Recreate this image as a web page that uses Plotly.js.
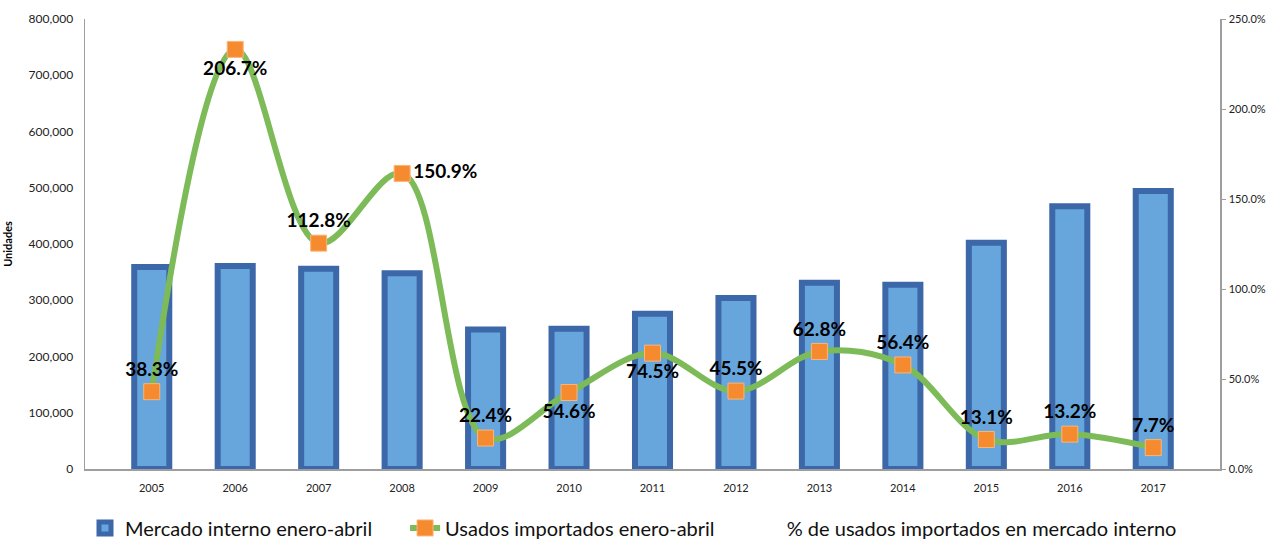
<!DOCTYPE html>
<html>
<head>
<meta charset="utf-8">
<script src="https://cdn.plot.ly/plotly-3.0.1.min.js"></script>
<style>html,body{margin:0;padding:0;background:#fff;}#chart{width:1269px;height:539px;}</style>
</head>
<body>
<div id="chart"></div>
<script>
// Data
var years = ['2005','2006','2007','2008','2009','2010','2011','2012','2013','2014','2015','2016','2017'];
var mercadoInterno = [359000, 361000, 356000, 348000, 248000, 249500, 276000, 304000, 331000, 327500, 402000, 467000, 494000];
var usadosImportados = [137500, 746000, 401500, 525500, 55000, 136000, 206000, 138500, 209000, 185000, 52500, 62000, 38000];
var pctUsados = [38.3, 206.7, 112.8, 150.9, 22.4, 54.6, 74.5, 45.5, 62.8, 56.4, 13.1, 13.2, 7.7];
var labelPos = ['top center','bottom center','top center','middle right','top center','bottom center','bottom center','top center','top center','top center','top center','top center','top center'];

var FONT = 'Lato, "Liberation Sans", sans-serif';

var traces = [
  {
    type: 'bar', name: 'Mercado interno enero-abril',
    x: years, y: mercadoInterno, yaxis: 'y', legend: 'legend',
    width: 0.42,
    marker: {color: '#67a6dd', line: {color: '#3c67a8', width: 6}},
    hoverinfo: 'skip'
  },
  {
    type: 'scatter', mode: 'lines+markers+text', name: 'Usados importados enero-abril',
    x: years, y: usadosImportados, yaxis: 'y', legend: 'legend2',
    line: {color: '#7dba58', width: 6, shape: 'spline', smoothing: 1},
    marker: {symbol: 'square', size: 16, color: '#f68a2e', line: {color: '#fbb57a', width: 1}},
    text: pctUsados.map(function(v){ return v.toFixed(1) + '%'; }),
    textposition: labelPos,
    textfont: {family: FONT, size: 19, color: '#000', weight: 'bold'},
    cliponaxis: false,
    hoverinfo: 'skip'
  },
  {
    type: 'scatter', mode: 'lines', name: '% de usados importados en mercado interno',
    x: years, y: pctUsados.map(function(v){ return v / 100; }), yaxis: 'y2', legend: 'legend3',
    line: {color: 'rgba(0,0,0,0)', width: 0},
    hoverinfo: 'skip'
  }
];

function lg(x) {
  return {
    orientation: 'h', x: x, xanchor: 'left', y: -0.131, yanchor: 'middle',
    font: {size: 20, color: '#111', family: FONT},
    bgcolor: 'rgba(0,0,0,0)', itemwidth: 30
  };
}

var layout = {
  width: 1269, height: 539,
  margin: {l: 85, r: 49, t: 19, b: 70, autoexpand: false},
  paper_bgcolor: '#fff', plot_bgcolor: '#fff',
  font: {family: FONT, color: '#222'},
  showlegend: true,
  xaxis: {
    type: 'category', showgrid: false, zeroline: false,
    showline: true, linecolor: '#9e9e9e', linewidth: 1.5,
    ticks: '', ticklabelstandoff: 8, tickfont: {size: 11, color: '#222'}, fixedrange: true
  },
  yaxis: {
    range: [0, 800000], tickvals: [0,100000,200000,300000,400000,500000,600000,700000,800000],
    tickformat: ',d', showgrid: false, zeroline: false,
    showline: true, linecolor: '#9e9e9e', linewidth: 1.5, ticks: '', ticklabelstandoff: 8,
    tickfont: {size: 12, color: '#222'},
    title: {text: 'Unidades', font: {size: 11, color: '#000', weight: 'bold'}, standoff: 14}
  },
  yaxis2: {
    overlaying: 'y', side: 'right', range: [0, 2.5],
    tickvals: [0, 0.5, 1, 1.5, 2, 2.5], tickformat: '.1%',
    showgrid: false, zeroline: false, showline: true, linecolor: '#9e9e9e', linewidth: 1.5,
    ticks: 'outside', ticklen: 4, tickcolor: '#9e9e9e', ticklabelstandoff: 1,
    tickfont: {size: 11, color: '#222'}
  },
  legend: lg(0.0),
  legend2: lg(0.282),
  legend3: lg(0.583)
};

Plotly.newPlot('chart', traces, layout, {displayModeBar: false, staticPlot: true});
</script>
</body>
</html>
